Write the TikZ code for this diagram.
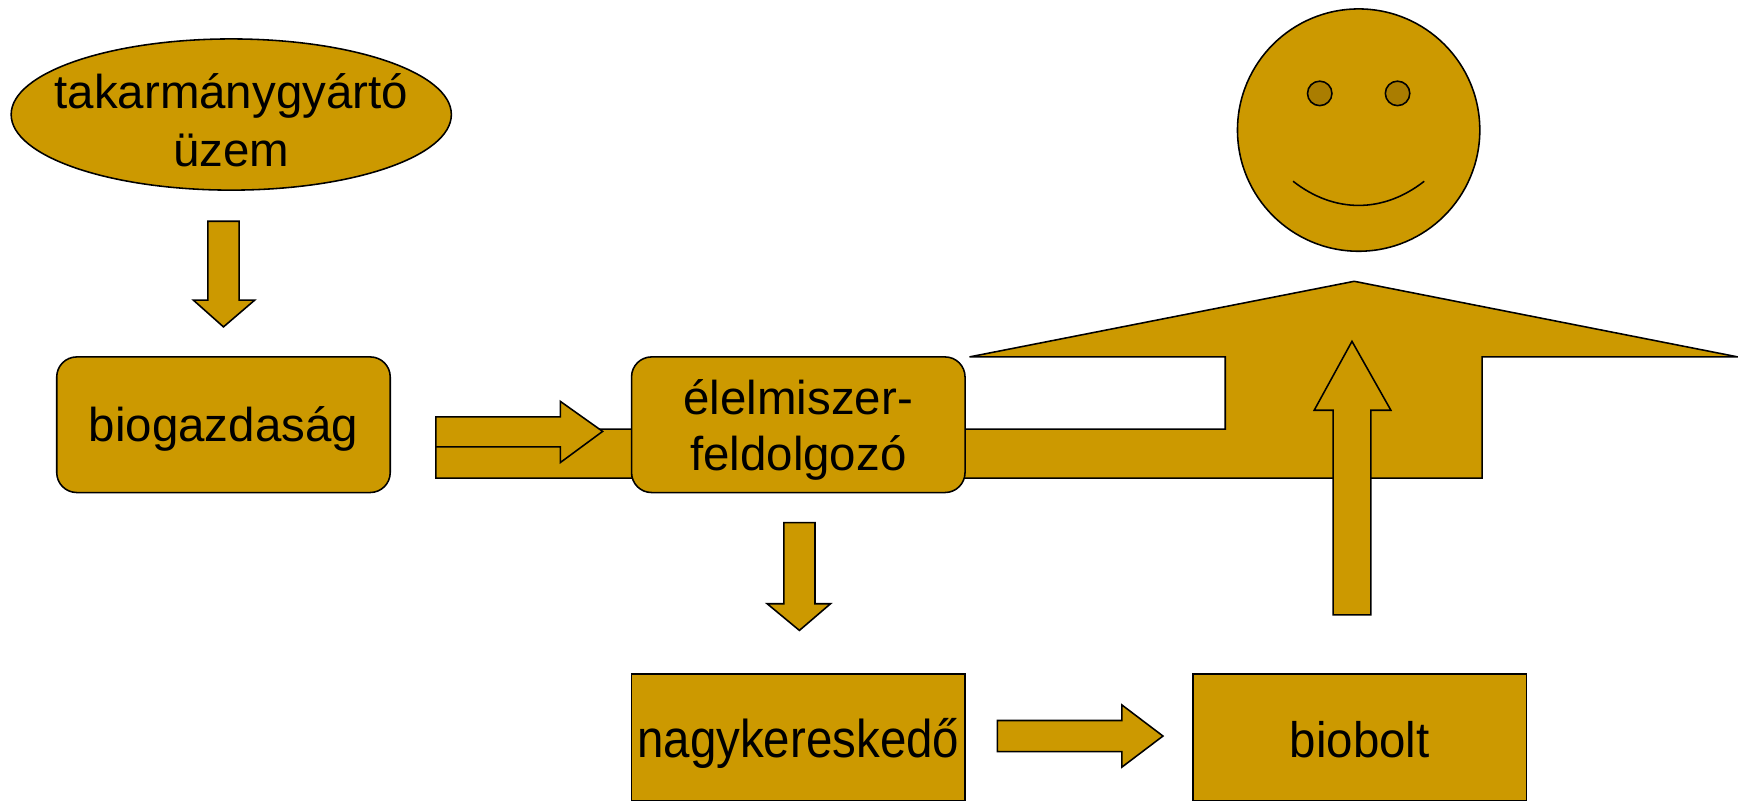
\documentclass[tikz,border=0pt]{standalone}
\usepackage{fontspec}
\usepackage{graphicx}
\setmainfont{Liberation Sans}
\usetikzlibrary{shapes}

\definecolor{arany}{RGB}{204,153,0}
\definecolor{szem}{RGB}{170,125,0}

\begin{document}
\begin{tikzpicture}[x=0.02cm,y=-0.02cm,line width=0.8pt,
  font=\fontsize{24.3}{29.6}\selectfont,
  alak/.style={draw,fill=arany},
  doboz/.style={alak,rounded corners=0.36cm,minimum width=6cm,minimum height=2.44cm,align=center,inner sep=0pt},
  bolt/.style={alak,minimum width=6cm,minimum height=2.28cm,inner sep=0pt,text height=0.887cm,text depth=0.17cm}]

\useasboundingbox (0,0) rectangle (1565,721);

% 椭圆
\draw[alak] (208,103) ellipse [x radius=3.96cm, y radius=1.36cm];
\node[align=center,inner sep=0pt,text height=2.05cm,text depth=0.17cm] (uzem) at (208,103) {takarmánygyártó\\üzem};

% 向下箭头
\draw[alak] (187,199) -- (215,199) -- (215,270) -- (229,270) -- (201,294) -- (174,270) -- (187,270) -- cycle;

% 方框
\node[doboz,text height=0.768cm,text depth=0.17cm] (biogazd) at (201,382) {biogazdaság};

% 横条和身体
\draw[alak] (392,430) -- (1333,430) -- (1333,321) -- (1563,321) -- (1218,253) -- (872,321)
  -- (1102,321) -- (1102,386) -- (392,386) -- cycle;

% 向右箭头
\draw[alak] (392,375) -- (504,375) -- (504,361) -- (542,388) -- (504,416) -- (504,402) -- (392,402) -- cycle;

\node[doboz,font=\fontsize{24.3}{28.5}\selectfont,text height=1.81cm,text depth=0.17cm] (feldolg) at (718,382) {élelmiszer-\\feldolgozó};

% 向上箭头
\draw[alak] (1199,553) -- (1233,553) -- (1233,369) -- (1251,369) -- (1216,307) -- (1182,369) -- (1199,369) -- cycle;

% 向下箭头
\draw[alak] (705,470) -- (733,470) -- (733,543) -- (747,543) -- (719,567) -- (690,543) -- (705,543) -- cycle;

% 下面两个方框
\node[bolt] (nagyker) at (718,663) {\scalebox{1}[1.12]{nagykereskedő}};
\draw[alak] (897,648) -- (1009,648) -- (1009,634) -- (1046,662) -- (1009,690) -- (1009,676) -- (897,676) -- cycle;
\node[bolt] (biobolt) at (1223,663) {\scalebox{1}[1.05]{biobolt}};

% 笑脸
\draw[alak] (1222,117) circle [radius=2.18cm];
\draw[alak,fill=szem] (1187,84) circle [radius=0.22cm];
\draw[alak,fill=szem] (1257,84) circle [radius=0.22cm];
\draw (1163,163) .. controls (1200,192) and (1244,192) .. (1281,163);

\end{tikzpicture}
\end{document}
